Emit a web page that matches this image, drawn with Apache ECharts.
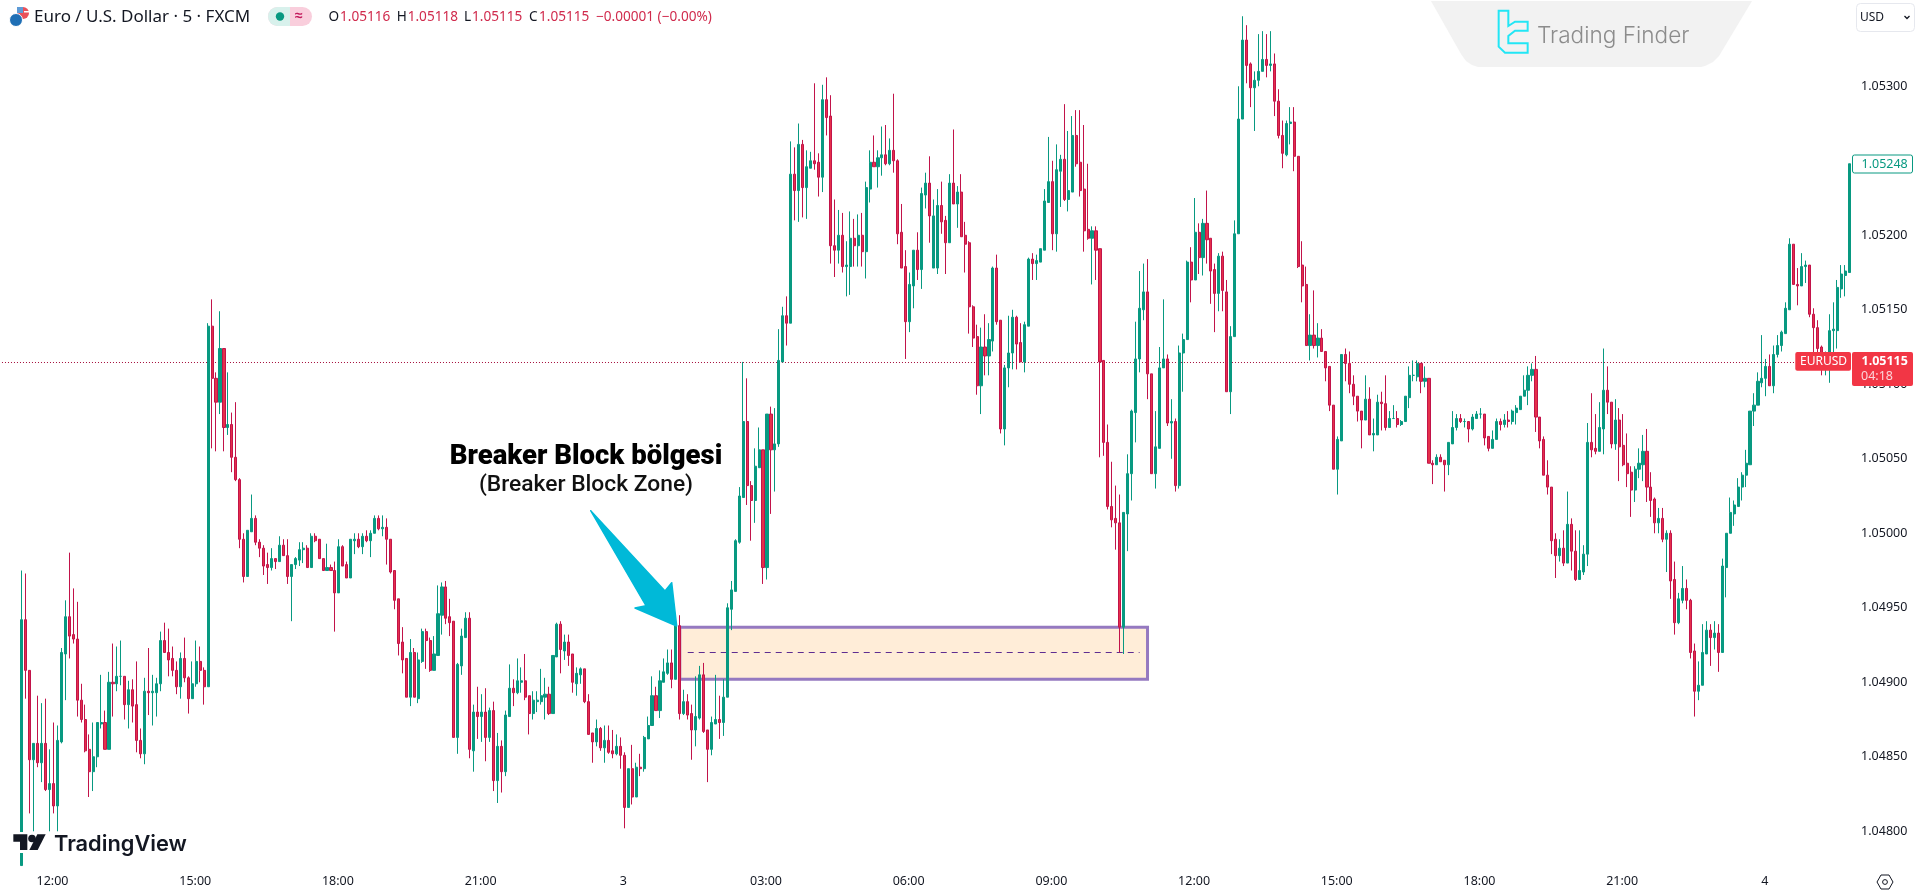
<!DOCTYPE html>
<html>
<head>
<meta charset="utf-8">
<style>html,body{margin:0;padding:0;background:#fff;overflow:hidden}#c{width:1919px;height:894px}</style>
<script src="https://cdn.jsdelivr.net/npm/echarts@6/dist/echarts.min.js"></script>
</head>
<body>
<div id="c"></div>
<script>
// Prices are written in 1e-5 units (104777 = 1.04777)
const opens=[
104777,104942,104908,104848,104859,104846,104859,104828,104832,104817,
104860,104919,104944,104932,104929,104888,104875,104855,104840,104850,
104872,104873,104855,104900,104899,104904,104904,104885,104895,104885,
104861,104852,104894,104893,104893,104899,104928,104920,104916,104908,
104897,104916,104903,104889,104899,104914,104908,104897,105139,105104,
105088,105124,105071,105073,105051,105036,104996,104971,105001,105010,
104994,104990,104979,104977,104983,104981,104992,104985,104971,104979,
104982,104989,104990,104977,104998,104996,104983,104975,104977,104975,
104960,104991,104979,104970,104995,104996,104991,104998,104995,105000,
105010,105003,105004,104996,104975,104956,104927,104916,104890,104920,
104889,104914,104934,104928,104908,104918,104945,104964,104944,104941,
104863,104911,104930,104943,104854,104880,104877,104880,104863,104881,
104834,104857,104840,104877,104896,104893,104900,104901,104891,104879,
104887,104887,104890,104892,104879,104917,104939,104921,104927,104919,
104899,104905,104909,104887,104866,104860,104869,104856,104861,104854,
104852,104857,104851,104816,104842,104823,104843,104842,104862,104871,
104891,104881,104900,104906,104913,104902,104938,104879,104887,104879,
104868,104876,104905,104868,104855,104872,104875,104873,104890,104949,
104961,104994,105024,105075,105032,105022,105044,105056,104977,105080,
105056,105060,105115,105146,105141,105241,105230,105261,105232,105245,
105250,105249,105239,105291,105280,105193,105190,105200,105179,105179,
105198,105193,105200,105189,105231,105249,105246,105252,105254,105248,
105257,105250,105202,105179,105142,105166,105190,105177,105227,105235,
105178,105178,105220,105210,105195,105235,105221,105229,105200,105195,
105152,105132,105099,105125,105119,105129,105178,105143,105070,105111,
105121,105145,105128,105115,105139,105184,105181,105182,105190,105222,
105236,105201,105243,105251,105224,105229,105267,105249,105231,105204,
105198,105203,105191,105116,105061,105018,105010,105007,104937,105013,
105040,105081,105117,105150,105162,105107,105040,105057,105111,105117,
105074,105075,105032,105121,105130,105182,105170,105202,105185,105208,
105198,105177,105161,105186,105162,105095,105132,105201,105278,105331,
105315,105299,105304,105310,105318,105314,105315,105290,105267,105254,
105275,105276,105253,105180,105167,105126,105133,105126,105131,105122,
105112,105086,105043,105062,105120,105114,105100,105092,105082,105076,
105090,105066,105066,105088,105087,105071,105077,105077,105073,105075,
105091,105106,105105,105114,105102,105104,105047,105046,105051,105049,
105046,105060,105071,105077,105075,105075,105070,105077,105080,105080,
105065,105057,105063,105075,105073,105076,105075,105081,105083,105092,
105096,105106,105110,105078,105063,105039,105031,104996,104985,104990,
104980,105006,104988,104969,104974,104986,105061,105057,105055,105070,
105096,105088,105060,105076,105059,105047,105041,105029,105043,105046,
105055,105031,105023,105007,105010,104996,105000,104969,104940,104955,
104963,104955,104921,104894,104898,104919,104935,104930,104933,104920,
104977,105000,105013,105018,105031,105039,105046,105082,105086,105101,
105104,105112,105099,105120,105126,105134,105150,105194,105167,105166,
105179,105180,105147,105138,105125,105113,105112,105136,105136,105164,105173,105175];
const highs=[
104975,104973,104908,104859,104891,104886,104889,104855,104873,104871,
104923,104955,104987,104963,104954,104899,104885,104865,104873,104873,
104905,104881,104907,104926,104924,104928,104904,104901,104902,104914,
104869,104903,104923,104905,104903,104934,104940,104936,104924,104914,
104920,104930,104904,104914,104928,104924,104910,105141,105157,105108,
105149,105124,105108,105081,105088,105037,105000,105002,105026,105012,
104996,104992,104987,104990,104983,104998,104996,104996,104979,104984,
104994,104994,104992,105000,105000,104996,104983,104993,104979,104981,
104996,104992,104981,104996,105000,105000,105000,105002,105002,105012,
105012,105012,105010,104996,104975,104956,104937,104916,104929,104923,
104920,104936,104936,104930,104931,104965,104967,104968,104956,104941,
104913,104936,104947,104947,104885,104897,104892,104896,104883,104887,
104866,104861,104881,104912,104902,104916,104910,104919,104891,104894,
104894,104909,104903,104897,104918,104940,104941,104932,104932,104919,
104910,104910,104909,104892,104866,104875,104870,104871,104871,104868,
104865,104863,104853,104842,104858,104846,104852,104864,104877,104904,
104897,104908,104916,104922,104922,104939,104945,104895,104892,104885,
104904,104911,104913,104868,104877,104905,104891,104902,104953,104968,
104996,105031,105115,105104,105035,105057,105071,105056,105080,105085,
105084,105137,105152,105159,105263,105259,105275,105264,105257,105256,
105302,105255,105301,105306,105294,105224,105217,105215,105196,105216,
105211,105214,105215,105236,105257,105267,105257,105273,105274,105265,
105295,105251,105221,105190,105175,105190,105202,105232,105242,105253,
105224,105231,105236,105213,105241,105271,105233,105241,105209,105196,
105153,105140,105138,105147,105141,105179,105187,105143,105113,105146,
105150,105146,105141,105142,105185,105188,105187,105191,105231,105266,
105250,105261,105254,105288,105270,105280,105284,105284,105274,105248,
105206,105206,105191,105116,105073,105048,105032,105026,105014,105053,
105083,105142,105176,105181,105184,105107,105082,105125,105157,105120,
105090,105077,105126,105134,105183,105192,105225,105208,105211,105230,
105198,105181,105188,105189,105170,105139,105210,105300,105347,105341,
105316,105310,105335,105337,105335,105337,105322,105298,105277,105277,
105286,105286,105253,105196,105179,105147,105163,105141,105137,105122,
105112,105086,105065,105120,105124,105122,105106,105092,105082,105106,
105098,105077,105093,105095,105106,105082,105086,105082,105076,105092,
105112,105116,105116,105114,105112,105104,105049,105053,105053,105049,
105061,105082,105080,105080,105077,105075,105080,105082,105084,105080,
105065,105069,105077,105077,105080,105082,105083,105086,105092,105106,
105112,105114,105119,105078,105065,105049,105031,105000,104996,105002,
105028,105010,105002,105002,104992,105074,105094,105080,105088,105124,
105112,105088,105090,105084,105080,105067,105045,105045,105057,105066,
105070,105041,105024,105017,105017,105002,105002,104981,104960,104978,
104969,104956,104926,104914,104939,104941,104939,104941,104939,104983,
105000,105024,105022,105037,105041,105056,105082,105094,105108,105133,
105117,105120,105126,105133,105136,105155,105198,105194,105178,105188,
105183,105180,105151,105143,105126,105122,105147,105155,105170,105180,105180,105248];
const lows=[
104777,104889,104812,104800,104843,104833,104827,104800,104812,104800,
104859,104888,104916,104926,104877,104873,104853,104823,104827,104843,
104869,104855,104855,104877,104894,104898,104875,104869,104873,104853,
104849,104845,104878,104871,104877,104894,104920,104904,104904,104892,
104889,104900,104879,104889,104897,104900,104885,104897,105057,105055,
105080,105055,105066,105041,105035,104990,104967,104971,105001,104992,
104984,104972,104966,104975,104976,104981,104985,104966,104941,104976,
104978,104980,104977,104977,104994,104983,104975,104975,104975,104934,
104960,104978,104970,104970,104986,104990,104986,104994,104984,105000,
105002,104998,104979,104973,104949,104918,104906,104890,104884,104890,
104886,104913,104909,104907,104908,104918,104932,104939,104931,104863,
104852,104905,104930,104849,104840,104862,104860,104847,104860,104827,
104819,104826,104837,104877,104884,104892,104893,104888,104865,104875,
104880,104885,104875,104878,104879,104917,104906,104915,104911,104893,
104891,104899,104886,104865,104846,104857,104854,104846,104852,104849,
104851,104842,104802,104816,104818,104823,104837,104840,104862,104871,
104881,104876,104900,104905,104896,104902,104875,104878,104875,104848,
104857,104875,104866,104833,104851,104872,104862,104864,104890,104935,
104961,104993,105024,105019,104995,105007,105044,104966,104969,105013,
105028,105058,105115,105126,105141,105210,105209,105212,105211,105245,
105244,105226,105229,105267,105181,105172,105181,105175,105159,105160,
105179,105179,105179,105171,105222,105246,105232,105240,105247,105247,
105242,105194,105178,105117,105135,105151,105170,105164,105218,105195,
105178,105174,105201,105174,105195,105221,105205,105199,105175,105134,
105125,105093,105080,105106,105106,105122,105140,105067,105059,105098,
105110,105110,105115,105108,105139,105170,105170,105182,105190,105222,
105190,105189,105219,105223,105216,105229,105246,105226,105189,105197,
105167,105170,105051,105052,105016,105004,104989,104920,104919,104988,
105022,105061,105108,105143,105090,105040,105030,105057,105111,105072,
105050,105028,105030,105095,105130,105155,105170,105174,105173,105181,
105154,105135,105149,105149,105095,105080,105132,105201,105278,105302,
105286,105270,105300,105310,105306,105310,105280,105265,105245,105253,
105261,105243,105178,105155,105126,105116,105124,105118,105122,105102,
105082,105043,105026,105062,105102,105094,105086,105075,105057,105076,
105066,105055,105066,105069,105069,105071,105077,105071,105072,105075,
105084,105102,105102,105094,105098,105047,105033,105046,105048,105028,
105039,105060,105069,105074,105071,105061,105069,105077,105077,105059,
105055,105057,105063,105069,105071,105071,105073,105073,105083,105092,
105086,105102,105068,105057,105039,105026,104986,104970,104981,104978,
104980,104975,104968,104969,104972,104978,105051,105053,105055,105053,
105080,105057,105056,105035,105045,105031,105011,105021,105037,105035,
105021,105011,105000,105000,104994,104974,104956,104932,104939,104953,
104949,104916,104877,104888,104898,104919,104911,104922,104907,104920,
104957,105000,105005,105018,105022,105031,105046,105072,105086,105098,
105092,105099,105094,105118,105122,105134,105150,105167,105153,105166,
105168,105145,105121,105121,105106,105106,105101,105121,105124,105158,105159,105175];
const closes=[
104942,104908,104848,104859,104846,104859,104828,104832,104817,104861,
104920,104944,104931,104929,104888,104875,104854,104840,104850,104873,
104873,104855,104900,104899,104904,104904,104885,104895,104884,104861,
104852,104894,104893,104894,104899,104928,104920,104915,104908,104897,
104916,104903,104889,104899,104914,104908,104897,105139,105104,105088,
105124,105071,105073,105051,105036,104996,104971,105002,105010,104994,
104990,104978,104977,104983,104981,104992,104985,104971,104979,104983,
104989,104990,104977,104998,104995,104983,104975,104977,104975,104960,
104991,104978,104970,104996,104996,104991,104998,104995,105000,105010,
105003,105004,104996,104974,104955,104926,104915,104890,104920,104890,
104915,104934,104928,104908,104919,104946,104964,104943,104940,104863,
104912,104931,104943,104855,104880,104877,104880,104863,104881,104834,
104857,104840,104878,104896,104893,104901,104901,104890,104879,104888,
104888,104891,104892,104879,104918,104939,104922,104927,104918,104900,
104906,104909,104887,104865,104860,104869,104856,104861,104853,104852,
104857,104851,104816,104842,104823,104843,104842,104863,104871,104891,
104881,104901,104907,104913,104902,104938,104879,104887,104878,104868,
104877,104905,104867,104855,104873,104875,104873,104890,104950,104962,
104995,105025,105075,105032,105022,105045,105056,104977,105080,105056,
105060,105116,105146,105141,105241,105230,105261,105232,105246,105250,
105248,105239,105291,105279,105193,105190,105200,105179,105180,105198,
105193,105200,105189,105232,105249,105246,105252,105254,105248,105257,
105250,105201,105178,105142,105167,105190,105177,105228,105235,105213,
105213,105220,105209,105195,105235,105221,105229,105199,105194,105152,
105131,105099,105125,105119,105130,105178,105142,105070,105111,105121,
105145,105127,105115,105140,105184,105181,105183,105191,105223,105236,
105201,105244,105251,105224,105230,105267,105248,105230,105203,105198,
105203,105190,105115,105061,105018,105009,105007,104937,105014,105040,
105082,105117,105151,105162,105107,105040,105058,105111,105117,105074,
105075,105032,105121,105130,105182,105170,105202,105185,105208,105197,
105176,105161,105186,105163,105095,105132,105201,105278,105331,105314,
105299,105304,105310,105318,105314,105315,105290,105267,105255,105275,
105276,105253,105179,105166,105126,105133,105126,105131,105122,105111,
105086,105043,105063,105120,105114,105100,105092,105082,105076,105090,
105066,105067,105088,105087,105071,105077,105077,105073,105075,105092,
105106,105106,105114,105102,105104,105047,105046,105051,105048,105046,
105061,105071,105077,105075,105075,105070,105078,105080,105080,105064,
105057,105063,105075,105073,105076,105075,105082,105084,105092,105096,
105106,105110,105078,105062,105039,105031,104995,104985,104990,104980,
105006,104988,104969,104975,104986,105061,105056,105055,105071,105096,
105088,105060,105076,105058,105046,105040,105029,105043,105047,105055,
105031,105022,105007,105010,104996,105000,104968,104940,104956,104963,
104955,104920,104894,104898,104920,104935,104930,104933,104920,104978,
105000,105014,105019,105031,105039,105047,105082,105086,105102,105104,
105112,105099,105120,105126,105135,105151,105194,105167,105166,105179,
105180,105147,105138,105124,105118,105118,105136,105137,105165,105174,105176,105248];

const priceTicks=[1.048,1.0485,1.049,1.0495,1.05,1.0505,1.051,1.0515,1.052,1.0525,1.053];
const timeTicks=['12:00','15:00','18:00','21:00','3','03:00','06:00','09:00','12:00','15:00','18:00','21:00','4'];
const lastPrice=1.05115, zoneTop=1.04937, zoneBottom=1.04902, zoneMid=1.04920;
const LEAD=5;                 // empty slots before the first bar
const firstBarMinutes=11*60+20;

const S=1e5;
const categories=[];
const total=LEAD+opens.length;
for(let k=0;k<total;k++){
  const m=firstBarMinutes+(k-LEAD)*5;
  const h=Math.floor(((m%1440)+1440)%1440/60), mm=((m%60)+60)%60;
  const day=2+Math.floor(m/1440);
  const lab=(h===0&&mm===0)?String(day):String(h).padStart(2,'0')+':'+String(mm).padStart(2,'0');
  categories.push(lab);
}
const showIdx=new Set();
categories.forEach((c,k)=>{ if(timeTicks.includes(c)) showIdx.add(k); });
const bars=[];
for(let k=0;k<LEAD;k++) bars.push(['-','-','-','-']);
opens.forEach((o,i)=>bars.push([o/S,closes[i]/S,lows[i]/S,highs[i]/S]));

const dark='#131722', FONT='"Noto Sans", sans-serif';
function T(x,y,text,o){return {type:'text',z:200,x:x,y:y,style:Object.assign({text:text,fill:dark,font:'13.6px '+FONT,textVerticalAlign:'middle'},o||{})};}
function zp(pts,dx,dy,s){return pts.map(p=>[dx+p[0]/s,dy+p[1]/s]);}
const graphics=[
 // Trading Finder badge
 {type:'polygon',z:150,shape:{points:[[1431,1],[1752,1],[1719,56],[1713,62],[1705,66],[1701,67],[1478,67],[1472,65],[1466,61],[1461,54]]},style:{fill:'#F2F2F2'}},
 {type:'polygon',z:151,shape:{points:zp([[296,32],[325,32],[325,78],[345,65],[383,65],[383,92],[345,92],[325,108],[325,130],[383,130],[383,158],[315,158],[296,140]],1400,0,3)},style:{fill:'none',stroke:'#22E6F5',lineWidth:2}},
 T(1537,36.5,'Trading Finder',{fill:'#8C8C8C',font:'300 22.6px Inter, sans-serif'}),
 // currency box
 {type:'rect',z:150,shape:{x:1856.5,y:3.5,width:58,height:28,r:4},style:{fill:'#fff',stroke:'#E6E8EE',lineWidth:1}},
 T(1860,17.5,'USD',{font:'12px '+FONT}),
 {type:'polyline',z:151,shape:{points:[[1904.5,16],[1907,18.5],[1909.5,16]]},style:{stroke:dark,lineWidth:1.3,fill:'none'}},
 // symbol header
 {type:'circle',z:150,shape:{cx:23,cy:13,r:6},style:{fill:'#E9515A'}},
 {type:'rect',z:151,shape:{x:17,y:7,width:6,height:6},style:{fill:'#5E9BD6'}},
 {type:'rect',z:151,shape:{x:24,y:11,width:5,height:1.5},style:{fill:'#fff'}},
 {type:'circle',z:152,shape:{cx:16,cy:20,r:6.5},style:{fill:'#1F6FB5',stroke:'#fff',lineWidth:1}},
 T(34,17,'Euro / U.S. Dollar · 5 · FXCM',{font:'17px '+FONT}),
 {type:'rect',z:150,shape:{x:268,y:7,width:44,height:19,r:9.5},style:{fill:'#F9CEDC'}},
 {type:'rect',z:151,shape:{x:268,y:7,width:22,height:19,r:[9.5,0,0,9.5]},style:{fill:'#D8F1EC'}},
 {type:'circle',z:152,shape:{cx:280,cy:16.5,r:4.2},style:{fill:'#089981'}},
 T(295,16,'≈',{fill:'#C2185B',font:'bold 14px '+FONT}),
 T(328.6,17.5,'O'),T(340,17.5,'1.05116',{fill:'#D02A4C'}),
 T(396.7,17.5,'H'),T(407.7,17.5,'1.05118',{fill:'#D02A4C'}),
 T(464,17.5,'L'),T(472,17.5,'1.05115',{fill:'#D02A4C'}),
 T(529,17.5,'C'),T(539,17.5,'1.05115',{fill:'#D02A4C'}),
 T(596,17.5,'−0.00001 (−0.00%)',{fill:'#D02A4C'}),
 // annotation
 T(586,457.5,'Breaker Block bölgesi',{fill:'#000',font:'900 27.5px Roboto, sans-serif',textAlign:'center'}),
 T(586,485,'(Breaker Block Zone)',{fill:'#111',font:'500 22.8px Roboto, sans-serif',textAlign:'center'}),
 {type:'polygon',z:180,shape:{points:[[590.7,510.7],[665,591],[671.7,582.7],[676.7,626],[635,608],[646,605.7]]},style:{fill:'#00B9D8',stroke:'#00B9D8',lineWidth:1.5,lineJoin:'round'}},
 // TradingView watermark
 {type:'rect',z:150,shape:{x:10,y:832,width:180,height:21},style:{fill:'#fff'}},
 {type:'polygon',z:151,shape:{points:zp([[40,823],[82,823],[82,870],[60,870],[60,845],[40,845]],0,560,3)},style:{fill:dark}},
 {type:'circle',z:151,shape:{cx:32,cy:838.5,r:3.8},style:{fill:dark}},
 {type:'polygon',z:151,shape:{points:zp([[112,823],[137,823],[113,870],[88,870]],0,560,3)},style:{fill:dark}},
 T(54,844,'TradingView',{font:'600 21.8px Inter, sans-serif'}),
 // settings hexagon
 {type:'polygon',z:150,shape:{points:[[1877,882],[1881,875],[1889,875],[1893,882],[1889,889],[1881,889]]},style:{fill:'none',stroke:dark,lineWidth:1}},
 {type:'circle',z:151,shape:{cx:1885,cy:882,r:2.4},style:{fill:'none',stroke:dark,lineWidth:1}},
 // price tags
 {type:'rect',z:150,shape:{x:1852.5,y:155,width:60,height:18,r:2},style:{fill:'#fff',stroke:'#089981',lineWidth:1}},
 T(1861.5,164,'1.05248',{fill:'#089981',font:'12.5px '+FONT}),
 {type:'rect',z:150,shape:{x:1795.3,y:352,width:55.7,height:18.7,r:2},style:{fill:'#F23645'}},
 T(1800,361.5,'EURUSD',{fill:'#fff',font:'12px '+FONT}),
 {type:'rect',z:150,shape:{x:1852,y:352,width:61,height:34,r:2},style:{fill:'#F23645'}},
 T(1861.5,361.5,'1.05115',{fill:'#fff',font:'bold 12.5px '+FONT}),
 T(1861,376.5,'04:18',{fill:'#FBD5D9',font:'12.5px '+FONT})
];

const chart=echarts.init(document.getElementById('c'),null,{renderer:'canvas'});
chart.setOption({
 animation:false,
 backgroundColor:'#fff',
 grid:{left:-1.5,top:0,width:1852.6,height:866,containLabel:false},
 xAxis:{type:'category',data:categories,boundaryGap:true,
  axisLine:{show:false},axisTick:{show:false},splitLine:{show:false},
  axisLabel:{interval:(k)=>showIdx.has(k),margin:9,padding:[0,2,0,0],color:dark,fontSize:12.5,fontFamily:'Noto Sans',
   formatter:v=>v}},
 yAxis:{type:'value',position:'right',scale:true,min:1.047767,max:1.053579,
  axisLine:{show:false},axisTick:{show:false},splitLine:{show:false},
  axisLabel:{customValues:priceTicks,formatter:v=>v.toFixed(5),margin:10,padding:[4,0,0,0],color:dark,fontSize:12.5,fontFamily:'Noto Sans',showMinLabel:true,showMaxLabel:true}},
 series:[{
  type:'candlestick',data:bars,barWidth:2.6,large:false,clip:true,
  itemStyle:{color:'#089981',color0:'#E5304A',borderColor:'#089981',borderColor0:'#C2134A',borderWidth:1},
  markArea:{silent:true,itemStyle:{color:'#FFEDD8',borderColor:'#9579C0',borderWidth:3},
   data:[[{xAxis:LEAD+166,yAxis:zoneTop},{xAxis:LEAD+284,yAxis:zoneBottom}]]},
  markLine:{silent:true,symbol:'none',z:1,label:{show:false},animation:false,
   data:[
    [{xAxis:0,yAxis:lastPrice,lineStyle:{color:'#A50E3C',type:[1,2],width:1}},{xAxis:total-1,yAxis:lastPrice}],
    [{xAxis:LEAD+168,yAxis:zoneMid,lineStyle:{color:'#5E2D91',type:[6,5],width:1}},{xAxis:LEAD+282,yAxis:zoneMid}]
   ]}
 }],
 graphic:{elements:graphics}
});
</script>
</body>
</html>
